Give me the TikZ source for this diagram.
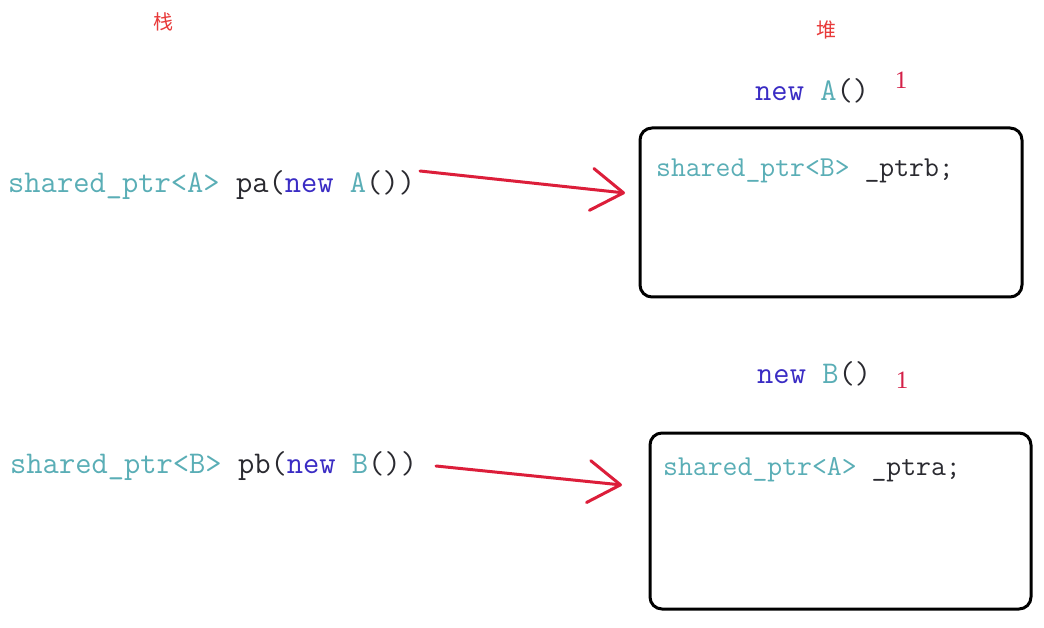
\documentclass[tikz,border=0pt]{standalone}
\usepackage{fontspec}
\usetikzlibrary{arrows.meta}
\newfontfamily\cjkfont{Noto Sans CJK SC}
\newfontfamily\numfont{Liberation Serif}
\definecolor{typec}{HTML}{5AAEB6}
\definecolor{darkc}{HTML}{2A2A30}
\definecolor{newc}{HTML}{3A2CC4}
\definecolor{arrc}{HTML}{DC1E3A}
\definecolor{onec}{HTML}{D42048}
\definecolor{cjkc}{HTML}{E83A3A}
\newcommand{\Ty}[1]{\textcolor{typec}{#1}}
\newcommand{\Dk}[1]{\textcolor{darkc}{#1}}
\newcommand{\Nw}[1]{\textcolor{newc}{#1}}
\begin{document}
\begin{tikzpicture}[x=1pt,y=-1pt,
  code/.style={inner sep=0pt,anchor=base west,font=\ttfamily\fontsize{31.6}{36}\selectfont},
  boxcode/.style={inner sep=0pt,anchor=base west,font=\ttfamily\fontsize{28.9}{34}\selectfont},
  heapbox/.style={draw=black,line width=3pt,rounded corners=12pt},
  ptrarrow/.style={draw=arrc,line width=3pt,line cap=round,-{Straight Barb[length=32pt,width=42pt,line width=3pt,line cap=round,line join=round]}},
  cjk/.style={inner sep=0pt,text=cjkc,font=\cjkfont\fontsize{20}{22}\selectfont},
  countlbl/.style={inner sep=0pt,text=onec,font=\numfont\fontsize{25}{28}\selectfont}]
\useasboundingbox (0,0) rectangle (1044,628);
\fill[white] (0,0) rectangle (1044,628);

\node[cjk] (stack) at (163,22) {栈};
\node[cjk] (heap) at (826,30) {堆};

% stack line 1
\node[code] (pa) at (8,193) {\Ty{shared\_ptr<A>} \Dk{pa(}\Nw{new} \Ty{A}\Dk{())}};
% heap object A
\node[code] (newA) at (755,101) {\Nw{new} \Ty{A}\Dk{()}};
\node[countlbl] (cntA) at (901,80) {1};
\draw[heapbox] (640,128) rectangle (1022,297);
\coordinate (boxA) at (625,193);
\node[boxcode] (ptrb) at (656,177) {\Ty{shared\_ptr<B>} \Dk{\_ptrb;}};
\coordinate (paEnd) at (420,171);
\draw[ptrarrow] (paEnd) -- (boxA);

% stack line 2
\node[code] (pb) at (10,473) {\Ty{shared\_ptr<B>} \Dk{pb(}\Nw{new} \Ty{B}\Dk{())}};
% heap object B
\node[code] (newB) at (757,383) {\Nw{new} \Ty{B}\Dk{()}};
\node[countlbl] (cntB) at (902,380) {1};
\draw[heapbox] (650,433) rectangle (1031,609);
\coordinate (boxB) at (622,485);
\node[boxcode] (ptra) at (663,475) {\Ty{shared\_ptr<A>} \Dk{\_ptra;}};
\coordinate (pbEnd) at (436,466);
\draw[ptrarrow] (pbEnd) -- (boxB);
\end{tikzpicture}
\end{document}
